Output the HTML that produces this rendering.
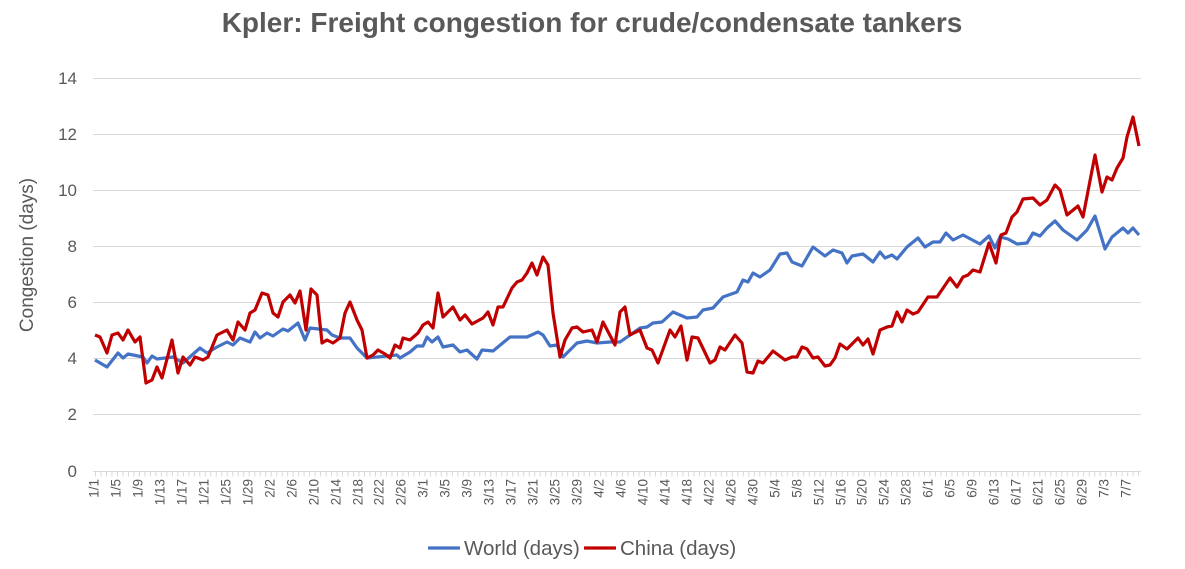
<!DOCTYPE html>
<html><head><meta charset="utf-8"><style>
body{margin:0;background:#fff;}
svg{display:block;font-family:"Liberation Sans",sans-serif;}
</style></head><body>
<svg width="1185" height="569" viewBox="0 0 1185 569">
<rect width="1185" height="569" fill="#fff"/>
<text x="592" y="32" text-anchor="middle" font-size="28" font-weight="bold" fill="#595959">Kpler: Freight congestion for crude/condensate tankers</text>
<g stroke="#d9d9d9" stroke-width="1">
<line x1="93" x2="1141" y1="78.5" y2="78.5"/><line x1="93" x2="1141" y1="134.5" y2="134.5"/><line x1="93" x2="1141" y1="190.5" y2="190.5"/><line x1="93" x2="1141" y1="246.5" y2="246.5"/><line x1="93" x2="1141" y1="302.5" y2="302.5"/><line x1="93" x2="1141" y1="358.5" y2="358.5"/><line x1="93" x2="1141" y1="414.5" y2="414.5"/><line x1="93" x2="1141" y1="471.5" y2="471.5"/>
<line x1="95" x2="1141" y1="474" y2="474" stroke-width="5" stroke-dasharray="1 4.49"/>
</g>
<g font-size="17" fill="#595959" text-anchor="end">
<text x="77" y="84">14</text><text x="77" y="140">12</text><text x="77" y="196">10</text><text x="77" y="252">8</text><text x="77" y="308">6</text><text x="77" y="364">4</text><text x="77" y="420">2</text><text x="77" y="477">0</text>
</g>
<text transform="translate(33,255) rotate(-90)" text-anchor="middle" font-size="19" fill="#595959">Congestion (days)</text>
<g font-size="13.5" fill="#595959" text-anchor="end" dominant-baseline="middle">
<text transform="translate(95,479) rotate(-90)">1/1</text>
<text transform="translate(117,479) rotate(-90)">1/5</text>
<text transform="translate(139,479) rotate(-90)">1/9</text>
<text transform="translate(161,479) rotate(-90)">1/13</text>
<text transform="translate(183,479) rotate(-90)">1/17</text>
<text transform="translate(205,479) rotate(-90)">1/21</text>
<text transform="translate(227,479) rotate(-90)">1/25</text>
<text transform="translate(249,479) rotate(-90)">1/29</text>
<text transform="translate(271,479) rotate(-90)">2/2</text>
<text transform="translate(293,479) rotate(-90)">2/6</text>
<text transform="translate(315,479) rotate(-90)">2/10</text>
<text transform="translate(337,479) rotate(-90)">2/14</text>
<text transform="translate(359,479) rotate(-90)">2/18</text>
<text transform="translate(380,479) rotate(-90)">2/22</text>
<text transform="translate(402,479) rotate(-90)">2/26</text>
<text transform="translate(424,479) rotate(-90)">3/1</text>
<text transform="translate(446,479) rotate(-90)">3/5</text>
<text transform="translate(468,479) rotate(-90)">3/9</text>
<text transform="translate(490,479) rotate(-90)">3/13</text>
<text transform="translate(512,479) rotate(-90)">3/17</text>
<text transform="translate(534,479) rotate(-90)">3/21</text>
<text transform="translate(556,479) rotate(-90)">3/25</text>
<text transform="translate(578,479) rotate(-90)">3/29</text>
<text transform="translate(600,479) rotate(-90)">4/2</text>
<text transform="translate(622,479) rotate(-90)">4/6</text>
<text transform="translate(644,479) rotate(-90)">4/10</text>
<text transform="translate(666,479) rotate(-90)">4/14</text>
<text transform="translate(688,479) rotate(-90)">4/18</text>
<text transform="translate(710,479) rotate(-90)">4/22</text>
<text transform="translate(732,479) rotate(-90)">4/26</text>
<text transform="translate(754,479) rotate(-90)">4/30</text>
<text transform="translate(776,479) rotate(-90)">5/4</text>
<text transform="translate(798,479) rotate(-90)">5/8</text>
<text transform="translate(820,479) rotate(-90)">5/12</text>
<text transform="translate(842,479) rotate(-90)">5/16</text>
<text transform="translate(863,479) rotate(-90)">5/20</text>
<text transform="translate(885,479) rotate(-90)">5/24</text>
<text transform="translate(907,479) rotate(-90)">5/28</text>
<text transform="translate(929,479) rotate(-90)">6/1</text>
<text transform="translate(951,479) rotate(-90)">6/5</text>
<text transform="translate(973,479) rotate(-90)">6/9</text>
<text transform="translate(995,479) rotate(-90)">6/13</text>
<text transform="translate(1017,479) rotate(-90)">6/17</text>
<text transform="translate(1039,479) rotate(-90)">6/21</text>
<text transform="translate(1061,479) rotate(-90)">6/25</text>
<text transform="translate(1083,479) rotate(-90)">6/29</text>
<text transform="translate(1105,479) rotate(-90)">7/3</text>
<text transform="translate(1127,479) rotate(-90)">7/7</text>
</g>
<polyline fill="none" stroke="#4472c4" stroke-width="3.2" stroke-linejoin="round" points="95,360 107,367 118,353 123,358 128,354 143,357 147,363 152,356 157,359 173,357 183,363 200,348 207,353 217,347 227,342 233,345 240,338 250,342 255,332 260,338 267,333 273,336 283,329 288,331 298,323 305,340 310,328 327,330 332,335 340,338 350,338 357,348 367,358 397,355 400,358 410,352 417,346 423,346 427,337 432,342 438,337 443,347 453,345 460,352 467,350 477,359 482,350 493,351 510,337 527,337 538,332 543,335 550,346 557,345 563,357 577,343 587,341 597,343 610,342 620,342 640,328 647,327 653,323 662,322 673,312 687,318 697,317 703,310 713,308 723,297 737,292 743,280 748,282 753,273 760,277 770,270 780,254 787,253 792,262 802,266 813,247 825,256 833,250 842,253 847,263 852,256 863,254 873,262 880,252 885,258 892,255 897,259 907,247 918,238 925,247 933,242 940,242 946,233 953,240 963,235 980,244 989,236 995,248 1000,237 1008,239 1017,244 1027,243 1033,233 1040,236 1047,228 1055,221 1063,230 1077,240 1087,230 1095,216 1105,249 1112,237 1123,228 1128,233 1133,228 1139,235"/>
<polyline fill="none" stroke="#c00000" stroke-width="3.2" stroke-linejoin="round" points="95,335 100,337 107,353 112,335 118,333 123,340 128,330 135,342 140,337 146,383 152,380 157,367 162,378 172,340 178,373 183,357 190,365 195,357 203,360 208,357 217,335 227,330 233,340 238,322 245,330 250,313 255,310 262,293 268,295 273,313 278,317 283,302 290,295 295,303 300,291 306,330 311,289 317,295 322,343 327,340 333,343 340,338 345,313 350,302 357,320 362,330 367,358 373,355 378,350 385,354 390,358 395,345 400,348 403,338 410,340 418,333 423,325 428,322 433,328 438,293 443,317 453,307 460,320 465,315 472,324 483,318 488,312 493,325 498,307 503,307 512,288 517,282 522,280 527,273 532,263 537,275 543,257 548,265 553,313 560,357 565,340 572,328 577,327 583,332 592,330 597,342 603,322 615,345 620,312 625,307 630,335 640,330 647,348 652,350 658,363 670,330 675,337 681,326 687,360 692,337 698,338 710,363 715,360 720,347 725,350 735,335 742,343 747,372 753,373 758,361 763,363 773,351 785,360 792,357 797,357 802,347 807,349 813,358 818,357 825,366 830,365 835,358 840,344 847,349 858,338 863,345 868,339 873,354 880,330 887,327 892,326 897,312 902,322 907,310 913,314 918,312 928,297 937,297 950,278 957,287 963,277 968,275 973,270 980,272 989,243 996,263 1001,235 1006,233 1012,217 1017,212 1023,199 1033,198 1040,205 1047,200 1055,185 1060,190 1067,215 1078,206 1083,217 1095,155 1102,192 1107,177 1112,180 1117,168 1123,158 1127,137 1133,117 1139,146"/>
<line x1="428" x2="460" y1="548" y2="548" stroke="#4472c4" stroke-width="3.2"/>
<text x="464" y="555" font-size="20.5" fill="#595959">World (days)</text>
<line x1="584" x2="616" y1="548" y2="548" stroke="#c00000" stroke-width="3.2"/>
<text x="620" y="555" font-size="20.5" fill="#595959">China (days)</text>
</svg>
</body></html>
